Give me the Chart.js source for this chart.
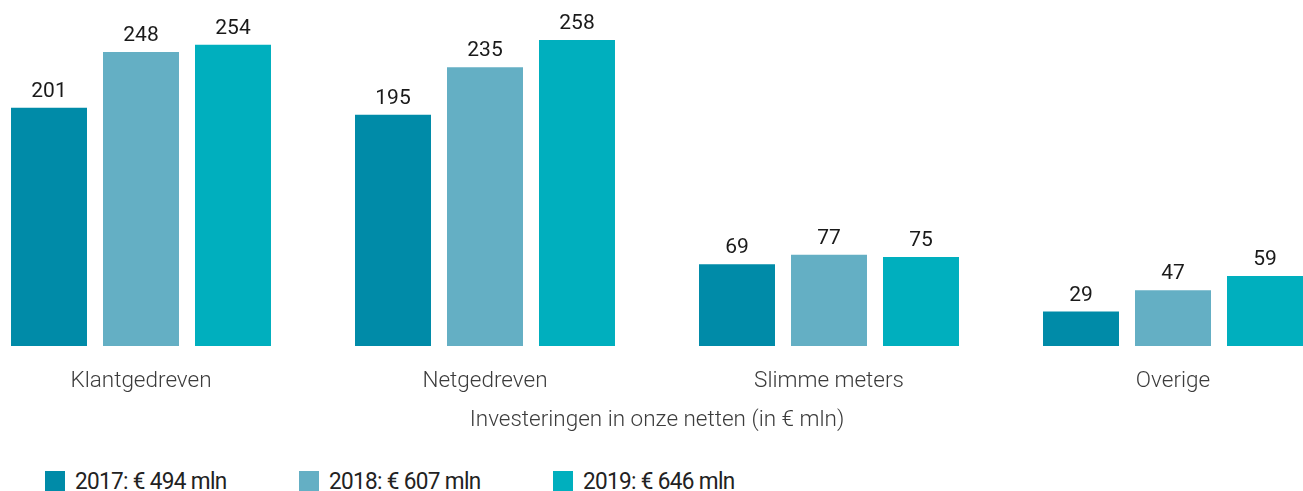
<!DOCTYPE html>
<html lang="nl">
<head>
<meta charset="utf-8">
<title>Investeringen in onze netten</title>
<script src="https://cdn.jsdelivr.net/npm/chart.js@4.4.1/dist/chart.umd.min.js"></script>
<style>
    html, body {
        margin: 0;
        padding: 0;
        background: #fff;
        width: 1303px;
        height: 491px;
        overflow: hidden;
        position: relative;
        font-family: Roboto, "Noto Sans", sans-serif;
    }
    /* canvas iets breder dan de pagina zodat de buitenste groepen tegen de rand vallen */
    #investChart {
        position: absolute;
        left: -31px;
        top: 0;
    }
    .legend {
        position: absolute;
        left: 45px;
        top: 467px;
        display: flex;
    }
    .legend-item {
        width: 254px;
        display: flex;
        align-items: center;
        font-size: 24px;
        font-weight: 400;
        color: #222;
        letter-spacing: -0.7px;
        white-space: nowrap;
    }
    .legend-item span.txt {
        display: inline-block;
        transform: scaleX(0.94);
        transform-origin: left center;
    }
    .legend-box {
        width: 20px;
        height: 20px;
        margin-right: 10px;
        flex: none;
    }
</style>
</head>
<body>
<canvas id="investChart" width="1376" height="445"></canvas>
<div class="legend" id="legend"></div>

<script>
// Categorieën en waarden (€ mln)
const categories = ["Klantgedreven", "Netgedreven", "Slimme meters", "Overige"];
const years = ["2017", "2018", "2019"];
const totals = [494, 607, 646];

const values2017 = [201, 195, 69, 29];
const values2018 = [248, 235, 77, 47];
const values2019 = [254, 258, 75, 59];

const colors = ["#008ba8", "#64afc4", "#00afbe"];

const seriesValues = [values2017, values2018, values2019];

const datasets = years.map((y, i) => ({
    label: `${y}: € ${totals[i]} mln`,
    data: seriesValues[i],
    backgroundColor: colors[i],
    borderWidth: 0,
    categoryPercentage: 0.8023,
    barPercentage: 0.826
}));

// Waarde boven elke staaf tekenen
const valueLabels = {
    id: "valueLabels",
    afterDatasetsDraw(chart) {
        const ctx = chart.ctx;
        ctx.save();
        ctx.font = "400 21px Roboto";
        ctx.fillStyle = "#1a1a1a";
        ctx.textAlign = "center";
        ctx.textBaseline = "alphabetic";
        chart.data.datasets.forEach((ds, i) => {
            chart.getDatasetMeta(i).data.forEach((bar, j) => {
                ctx.fillText(ds.data[j], bar.x, bar.y - 11);
            });
        });
        ctx.restore();
    }
};

const chart = new Chart(document.getElementById("investChart"), {
    type: "bar",
    data: {
        labels: categories,
        datasets: datasets
    },
    options: {
        responsive: false,
        animation: false,
        layout: {
            padding: { top: 14, bottom: 11, left: 0, right: 0 }
        },
        plugins: {
            legend: { display: false },
            tooltip: { enabled: false }
        },
        scales: {
            x: {
                grid: { display: false, drawTicks: false },
                border: { display: false },
                ticks: {
                    padding: 22,
                    color: "#3c3c3c",
                    font: { family: "Roboto", size: 22.5, weight: 300 }
                },
                title: {
                    display: true,
                    text: "Investeringen in onze netten (in € mln)",
                    color: "#3c3c3c",
                    padding: { top: -10, bottom: 0 },
                    font: { family: "Roboto", size: 22.5, weight: 300 }
                }
            },
            y: {
                display: false,
                min: 0,
                max: 280
            }
        }
    },
    plugins: [valueLabels]
});

// Legenda opbouwen uit de datasets
const legend = document.getElementById("legend");
chart.data.datasets.forEach(ds => {
    const item = document.createElement("div");
    item.className = "legend-item";
    item.innerHTML = `<span class="legend-box" style="background:${ds.backgroundColor}"></span><span class="txt">${ds.label}</span>`;
    legend.appendChild(item);
});
</script>
</body>
</html>
